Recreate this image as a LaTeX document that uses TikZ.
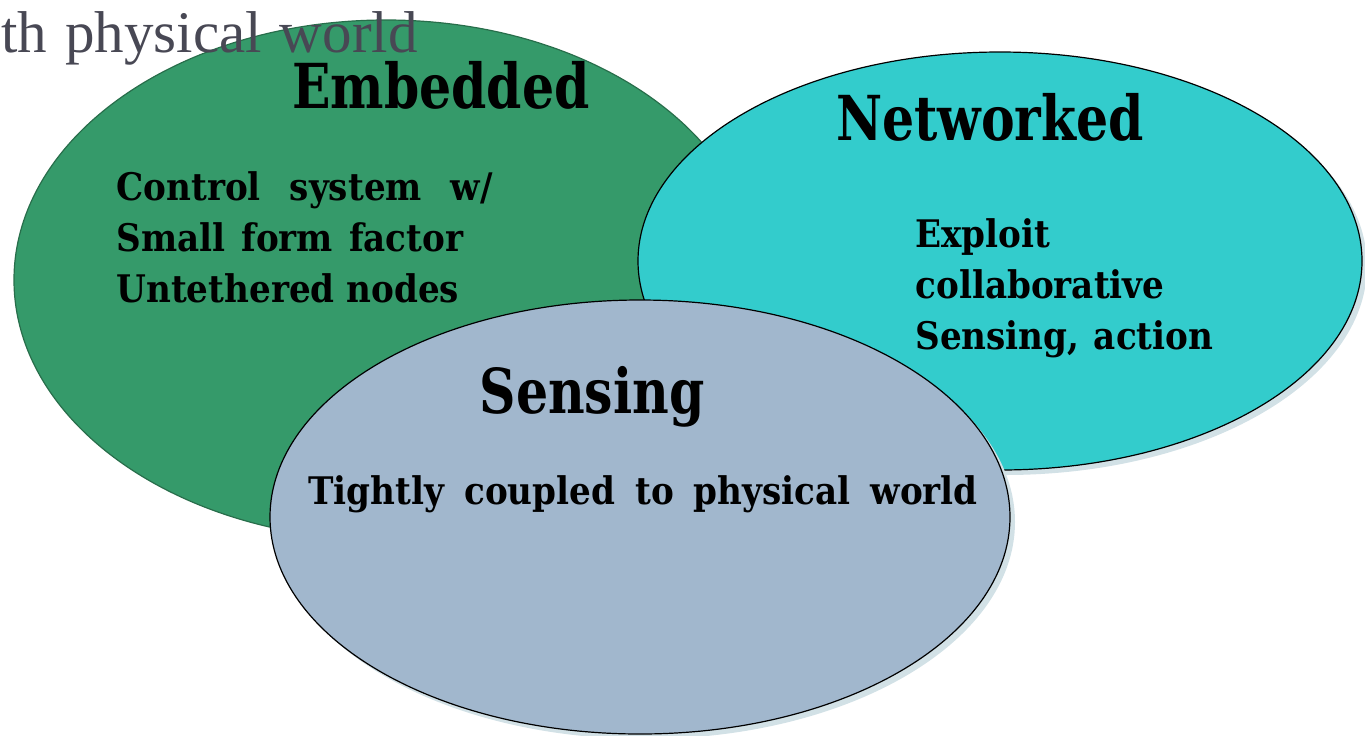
\documentclass[tikz,border=0pt]{standalone}
\usepackage{fontspec}
\setmainfont{DejaVu Serif Condensed}
\newfontfamily\headfont{DejaVu Serif Condensed}[FakeStretch=0.905]
\newfontfamily\grayfont{Liberation Serif}
\usetikzlibrary{shapes.geometric}
\definecolor{embgreen}{RGB}{53,154,106}
\definecolor{embedge}{RGB}{40,110,75}
\definecolor{netteal}{RGB}{51,204,204}
\definecolor{senblue}{RGB}{161,183,205}
\definecolor{shadowc}{RGB}{210,225,230}
\definecolor{graytext}{RGB}{72,72,84}
\tikzset{
  blob/.style={ellipse, inner sep=0pt},
  head/.style={font=\headfont\fontsize{31}{36}\selectfont\bfseries, inner sep=0pt},
  body/.style={font=\fontsize{19}{25.4}\selectfont\bfseries, inner sep=0pt, align=left},
}
\begin{document}
\begin{tikzpicture}[x=0.5pt,y=-0.5pt]
\useasboundingbox (0,0) rectangle (1365,735);
% ellipses
\node[blob, draw=embedge, line width=0.6pt, fill=embgreen, minimum width=744*0.5pt, minimum height=520*0.5pt] (emb) at (386,280) {};
\node[blob, fill=shadowc, minimum width=724*0.5pt, minimum height=418*0.5pt] (netsh) at (1005,266) {};
\node[blob, draw=black, line width=0.6pt, fill=netteal, minimum width=724*0.5pt, minimum height=418*0.5pt] (net) at (1000,261) {};
\node[blob, fill=shadowc, minimum width=740*0.5pt, minimum height=434*0.5pt] (sensh) at (645,522) {};
\node[blob, draw=black, line width=0.6pt, fill=senblue, minimum width=740*0.5pt, minimum height=434*0.5pt] (sen) at (640,517) {};
% headings
\node[head, anchor=base] (embt) at (441,108) {Embedded};
\node[head, anchor=base] (nett) at (990,140) {Networked};
\node[head, anchor=base] (sent) at (592,413) {Sensing};
% bodies
\node[body, anchor=north west] (embb) at (116,171.5) {Control\hspace{14.5pt}system\hspace{14.5pt}w/\\Small\hspace{8pt}form\hspace{8pt}factor\\Untethered\hspace{6pt}nodes};
\node[body, anchor=north west] (netb) at (915,218.5) {Exploit\\collaborative\\Sensing,\hspace{7.2pt}action};
\node[body, anchor=base west] (senb) at (308,504) {Tightly\hspace{10pt}coupled\hspace{10pt}to\hspace{10pt}physical\hspace{10pt}world};
% clipped gray text
\node[anchor=base west, inner sep=0pt, text=graytext, font=\grayfont\fontsize{29.5}{32}\selectfont] (gray) at (1,52) {th\hspace{9pt}physical\hspace{9pt}world};
\end{tikzpicture}
\end{document}
